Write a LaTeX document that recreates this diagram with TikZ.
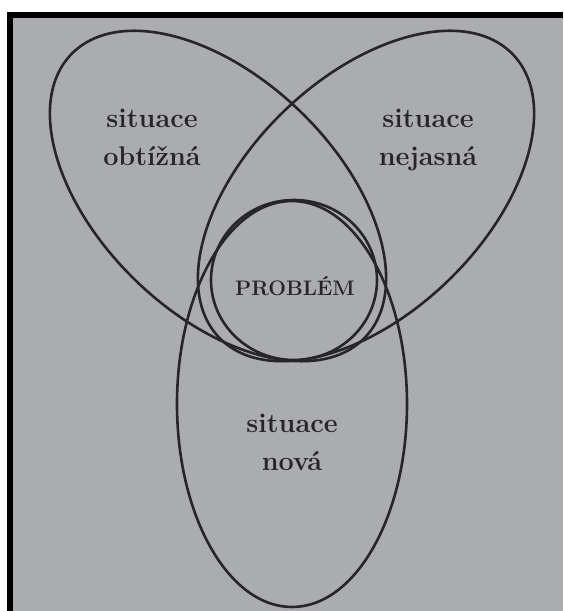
\documentclass[tikz,border=0pt]{standalone}
\usepackage{tikz}
\definecolor{vennInk}{HTML}{262628}
\definecolor{vennPaper}{HTML}{AAACAF}
\tikzset{
    setline/.style={draw=vennInk, line width=2.6pt},
    setlabel/.style={font=\fontsize{27}{38}\selectfont\bfseries, text=vennInk, align=center, inner sep=0pt},
    corelabel/.style={font=\fontsize{21}{25}\selectfont\bfseries, text=vennInk, inner sep=0pt}
}
\begin{document}
\begin{tikzpicture}[x=1pt, y=1pt]
\useasboundingbox (0,0) rectangle (563,611);
% paper and frame
\fill[white] (0,0) rectangle (563,611);
\fill[vennPaper] (7,0) rectangle (563,599);
\fill[black] (7,0) rectangle (13,599);
\fill[black] (7,593) rectangle (563,599);
% set centres
\coordinate (hard) at (218,415);
\coordinate (unclear) at (366,415);
\coordinate (new) at (292,207);
\coordinate (core) at (294,331);
% sets
\draw[setline, rotate around={-44:(hard)}] (hard) ellipse [x radius=204, y radius=118];
\draw[setline, rotate around={44:(unclear)}] (unclear) ellipse [x radius=204, y radius=118];
\draw[setline] (new) ellipse [x radius=115, y radius=203];
\draw[setline] (core) ellipse [x radius=83, y radius=80];
% labels
\node[setlabel, anchor=base] (hardtext) at (152,445) {situace\\obtížná};
\node[setlabel, anchor=base] (uncleartext) at (428,445) {situace\\nejasná};
\node[setlabel, anchor=base] (newtext) at (292,140) {situace\\nová};
\node[corelabel, anchor=base] (coretext) at (295,315) {PROBLÉM};
\end{tikzpicture}
\end{document}
